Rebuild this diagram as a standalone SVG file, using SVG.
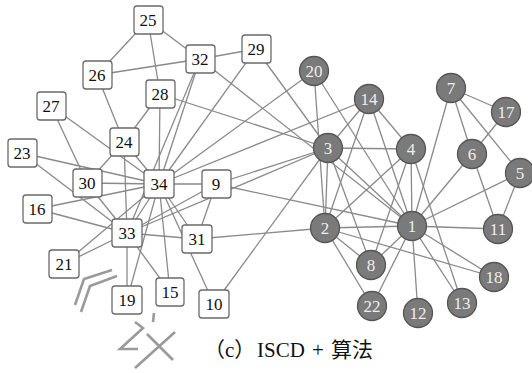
<svg xmlns="http://www.w3.org/2000/svg" width="532" height="373" viewBox="0 0 532 373">
<style>
.e{stroke:#8a8a8a;stroke-width:1.3;fill:none}
.sq rect{fill:#fff;stroke:#6a6a6a;stroke-width:1.3}
.sq text{font-family:"Liberation Serif",serif;font-size:17px;fill:#111;text-anchor:middle;dominant-baseline:central}
.ci circle{fill:#7a7a7a;stroke:#555;stroke-width:1.3}
.ci text{font-family:"Liberation Serif",serif;font-size:17px;fill:#eee;text-anchor:middle;dominant-baseline:central}
.art{stroke:#9a9a9a;stroke-width:2.6;fill:none}
.cap{font-family:"Liberation Serif","Noto Sans CJK SC",serif;font-size:21px;fill:#111}
</style>
<rect width="532" height="373" fill="#fff"/>
<g id="connectors">
<line class="e" x1="412" y1="226" x2="325" y2="228"/>
<line class="e" x1="412" y1="226" x2="328" y2="148"/>
<line class="e" x1="412" y1="226" x2="411" y2="149"/>
<line class="e" x1="412" y1="226" x2="520" y2="173"/>
<line class="e" x1="412" y1="226" x2="472" y2="154"/>
<line class="e" x1="412" y1="226" x2="451" y2="88"/>
<line class="e" x1="412" y1="226" x2="371" y2="265"/>
<line class="e" x1="412" y1="226" x2="216" y2="184"/>
<line class="e" x1="412" y1="226" x2="498" y2="229"/>
<line class="e" x1="412" y1="226" x2="418" y2="313"/>
<line class="e" x1="412" y1="226" x2="462" y2="303"/>
<line class="e" x1="412" y1="226" x2="369" y2="99"/>
<line class="e" x1="412" y1="226" x2="494" y2="277"/>
<line class="e" x1="412" y1="226" x2="314" y2="71"/>
<line class="e" x1="412" y1="226" x2="372" y2="306"/>
<line class="e" x1="412" y1="226" x2="200" y2="59"/>
<line class="e" x1="325" y1="228" x2="328" y2="148"/>
<line class="e" x1="325" y1="228" x2="411" y2="149"/>
<line class="e" x1="325" y1="228" x2="371" y2="265"/>
<line class="e" x1="325" y1="228" x2="369" y2="99"/>
<line class="e" x1="325" y1="228" x2="494" y2="277"/>
<line class="e" x1="325" y1="228" x2="314" y2="71"/>
<line class="e" x1="325" y1="228" x2="372" y2="306"/>
<line class="e" x1="325" y1="228" x2="197" y2="239"/>
<line class="e" x1="328" y1="148" x2="411" y2="149"/>
<line class="e" x1="328" y1="148" x2="371" y2="265"/>
<line class="e" x1="328" y1="148" x2="216" y2="184"/>
<line class="e" x1="328" y1="148" x2="214" y2="304"/>
<line class="e" x1="328" y1="148" x2="369" y2="99"/>
<line class="e" x1="328" y1="148" x2="160" y2="94"/>
<line class="e" x1="328" y1="148" x2="256" y2="49"/>
<line class="e" x1="328" y1="148" x2="127" y2="233"/>
<line class="e" x1="411" y1="149" x2="371" y2="265"/>
<line class="e" x1="411" y1="149" x2="462" y2="303"/>
<line class="e" x1="411" y1="149" x2="369" y2="99"/>
<line class="e" x1="520" y1="173" x2="451" y2="88"/>
<line class="e" x1="520" y1="173" x2="498" y2="229"/>
<line class="e" x1="472" y1="154" x2="451" y2="88"/>
<line class="e" x1="472" y1="154" x2="498" y2="229"/>
<line class="e" x1="472" y1="154" x2="506" y2="112"/>
<line class="e" x1="451" y1="88" x2="506" y2="112"/>
<line class="e" x1="216" y1="184" x2="197" y2="239"/>
<line class="e" x1="216" y1="184" x2="127" y2="233"/>
<line class="e" x1="216" y1="184" x2="159" y2="184"/>
<line class="e" x1="214" y1="304" x2="159" y2="184"/>
<line class="e" x1="369" y1="99" x2="159" y2="184"/>
<line class="e" x1="170" y1="292" x2="127" y2="233"/>
<line class="e" x1="170" y1="292" x2="159" y2="184"/>
<line class="e" x1="37" y1="209" x2="127" y2="233"/>
<line class="e" x1="37" y1="209" x2="159" y2="184"/>
<line class="e" x1="127" y1="300" x2="127" y2="233"/>
<line class="e" x1="127" y1="300" x2="159" y2="184"/>
<line class="e" x1="314" y1="71" x2="159" y2="184"/>
<line class="e" x1="64" y1="264" x2="127" y2="233"/>
<line class="e" x1="64" y1="264" x2="159" y2="184"/>
<line class="e" x1="22" y1="153" x2="127" y2="233"/>
<line class="e" x1="22" y1="153" x2="159" y2="184"/>
<line class="e" x1="124" y1="142" x2="97" y2="75"/>
<line class="e" x1="124" y1="142" x2="160" y2="94"/>
<line class="e" x1="124" y1="142" x2="87" y2="183"/>
<line class="e" x1="124" y1="142" x2="127" y2="233"/>
<line class="e" x1="124" y1="142" x2="159" y2="184"/>
<line class="e" x1="148" y1="20" x2="97" y2="75"/>
<line class="e" x1="148" y1="20" x2="160" y2="94"/>
<line class="e" x1="148" y1="20" x2="200" y2="59"/>
<line class="e" x1="97" y1="75" x2="200" y2="59"/>
<line class="e" x1="51" y1="106" x2="87" y2="183"/>
<line class="e" x1="51" y1="106" x2="159" y2="184"/>
<line class="e" x1="160" y1="94" x2="159" y2="184"/>
<line class="e" x1="256" y1="49" x2="200" y2="59"/>
<line class="e" x1="256" y1="49" x2="159" y2="184"/>
<line class="e" x1="87" y1="183" x2="127" y2="233"/>
<line class="e" x1="87" y1="183" x2="159" y2="184"/>
<line class="e" x1="197" y1="239" x2="127" y2="233"/>
<line class="e" x1="197" y1="239" x2="159" y2="184"/>
<line class="e" x1="200" y1="59" x2="127" y2="233"/>
<line class="e" x1="200" y1="59" x2="159" y2="184"/>
<line class="e" x1="127" y1="233" x2="159" y2="184"/>
</g>
<g id="n25" class="sq"><rect x="134" y="6" width="29" height="28" rx="3"/><text x="148" y="20">25</text></g>
<g id="n26" class="sq"><rect x="83" y="61" width="29" height="28" rx="3"/><text x="97" y="75">26</text></g>
<g id="n32" class="sq"><rect x="186" y="45" width="29" height="28" rx="3"/><text x="200" y="59">32</text></g>
<g id="n29" class="sq"><rect x="242" y="35" width="29" height="28" rx="3"/><text x="256" y="49">29</text></g>
<g id="n28" class="sq"><rect x="146" y="80" width="29" height="28" rx="3"/><text x="160" y="94">28</text></g>
<g id="n27" class="sq"><rect x="37" y="92" width="29" height="28" rx="3"/><text x="51" y="106">27</text></g>
<g id="n24" class="sq"><rect x="110" y="128" width="29" height="28" rx="3"/><text x="124" y="142">24</text></g>
<g id="n23" class="sq"><rect x="8" y="139" width="29" height="28" rx="3"/><text x="22" y="153">23</text></g>
<g id="n30" class="sq"><rect x="73" y="169" width="29" height="28" rx="3"/><text x="87" y="183">30</text></g>
<g id="n34" class="sq"><rect x="144" y="170" width="30" height="28" rx="3"/><text x="159" y="184">34</text></g>
<g id="n9" class="sq"><rect x="202" y="170" width="29" height="28" rx="3"/><text x="216" y="184">9</text></g>
<g id="n16" class="sq"><rect x="23" y="195" width="29" height="28" rx="3"/><text x="37" y="209">16</text></g>
<g id="n33" class="sq"><rect x="112" y="219" width="30" height="28" rx="3"/><text x="127" y="233">33</text></g>
<g id="n31" class="sq"><rect x="182" y="225" width="30" height="28" rx="3"/><text x="197" y="239">31</text></g>
<g id="n21" class="sq"><rect x="49" y="250" width="30" height="28" rx="3"/><text x="64" y="264">21</text></g>
<g id="n19" class="sq"><rect x="112" y="286" width="30" height="28" rx="3"/><text x="127" y="300">19</text></g>
<g id="n15" class="sq"><rect x="156" y="278" width="28" height="28" rx="3"/><text x="170" y="292">15</text></g>
<g id="n10" class="sq"><rect x="199" y="290" width="30" height="28" rx="3"/><text x="214" y="304">10</text></g>
<g id="n20" class="ci"><circle cx="314" cy="71" r="14.5"/><text x="314" y="71">20</text></g>
<g id="n14" class="ci"><circle cx="369" cy="99" r="14.5"/><text x="369" y="99">14</text></g>
<g id="n7" class="ci"><circle cx="451" cy="88" r="14.5"/><text x="451" y="88">7</text></g>
<g id="n17" class="ci"><circle cx="506" cy="112" r="14.5"/><text x="506" y="112">17</text></g>
<g id="n3" class="ci"><circle cx="328" cy="148" r="14.5"/><text x="328" y="148">3</text></g>
<g id="n4" class="ci"><circle cx="411" cy="149" r="14.5"/><text x="411" y="149">4</text></g>
<g id="n6" class="ci"><circle cx="472" cy="154" r="14.5"/><text x="472" y="154">6</text></g>
<g id="n5" class="ci"><circle cx="520" cy="173" r="14.5"/><text x="520" y="173">5</text></g>
<g id="n2" class="ci"><circle cx="325" cy="228" r="14.5"/><text x="325" y="228">2</text></g>
<g id="n1" class="ci"><circle cx="412" cy="226" r="14.5"/><text x="412" y="226">1</text></g>
<g id="n11" class="ci"><circle cx="498" cy="229" r="14.5"/><text x="498" y="229">11</text></g>
<g id="n8" class="ci"><circle cx="371" cy="265" r="14.5"/><text x="371" y="265">8</text></g>
<g id="n18" class="ci"><circle cx="494" cy="277" r="14.5"/><text x="494" y="277">18</text></g>
<g id="n22" class="ci"><circle cx="372" cy="306" r="14.5"/><text x="372" y="306">22</text></g>
<g id="n12" class="ci"><circle cx="418" cy="313" r="14.5"/><text x="418" y="313">12</text></g>
<g id="n13" class="ci"><circle cx="462" cy="303" r="14.5"/><text x="462" y="303">13</text></g>
<g id="marks">
<polyline class="art" points="75,305 84,279 112,270"/>
<polyline class="art" points="81,312 90,286 117,276"/>
<polyline class="art" points="135,322 143,328 120,349 138,349"/>
<line class="art" x1="135" y1="368" x2="175" y2="332"/>
<line class="art" x1="147" y1="334" x2="173" y2="360"/>
<path class="art" d="M154,313 L153,322" stroke-width="2"/>
</g>
<text class="cap" y="357"><tspan x="204">（c）</tspan><tspan x="257">ISCD</tspan><tspan x="312">+</tspan><tspan x="331">算法</tspan></text>
</svg>
